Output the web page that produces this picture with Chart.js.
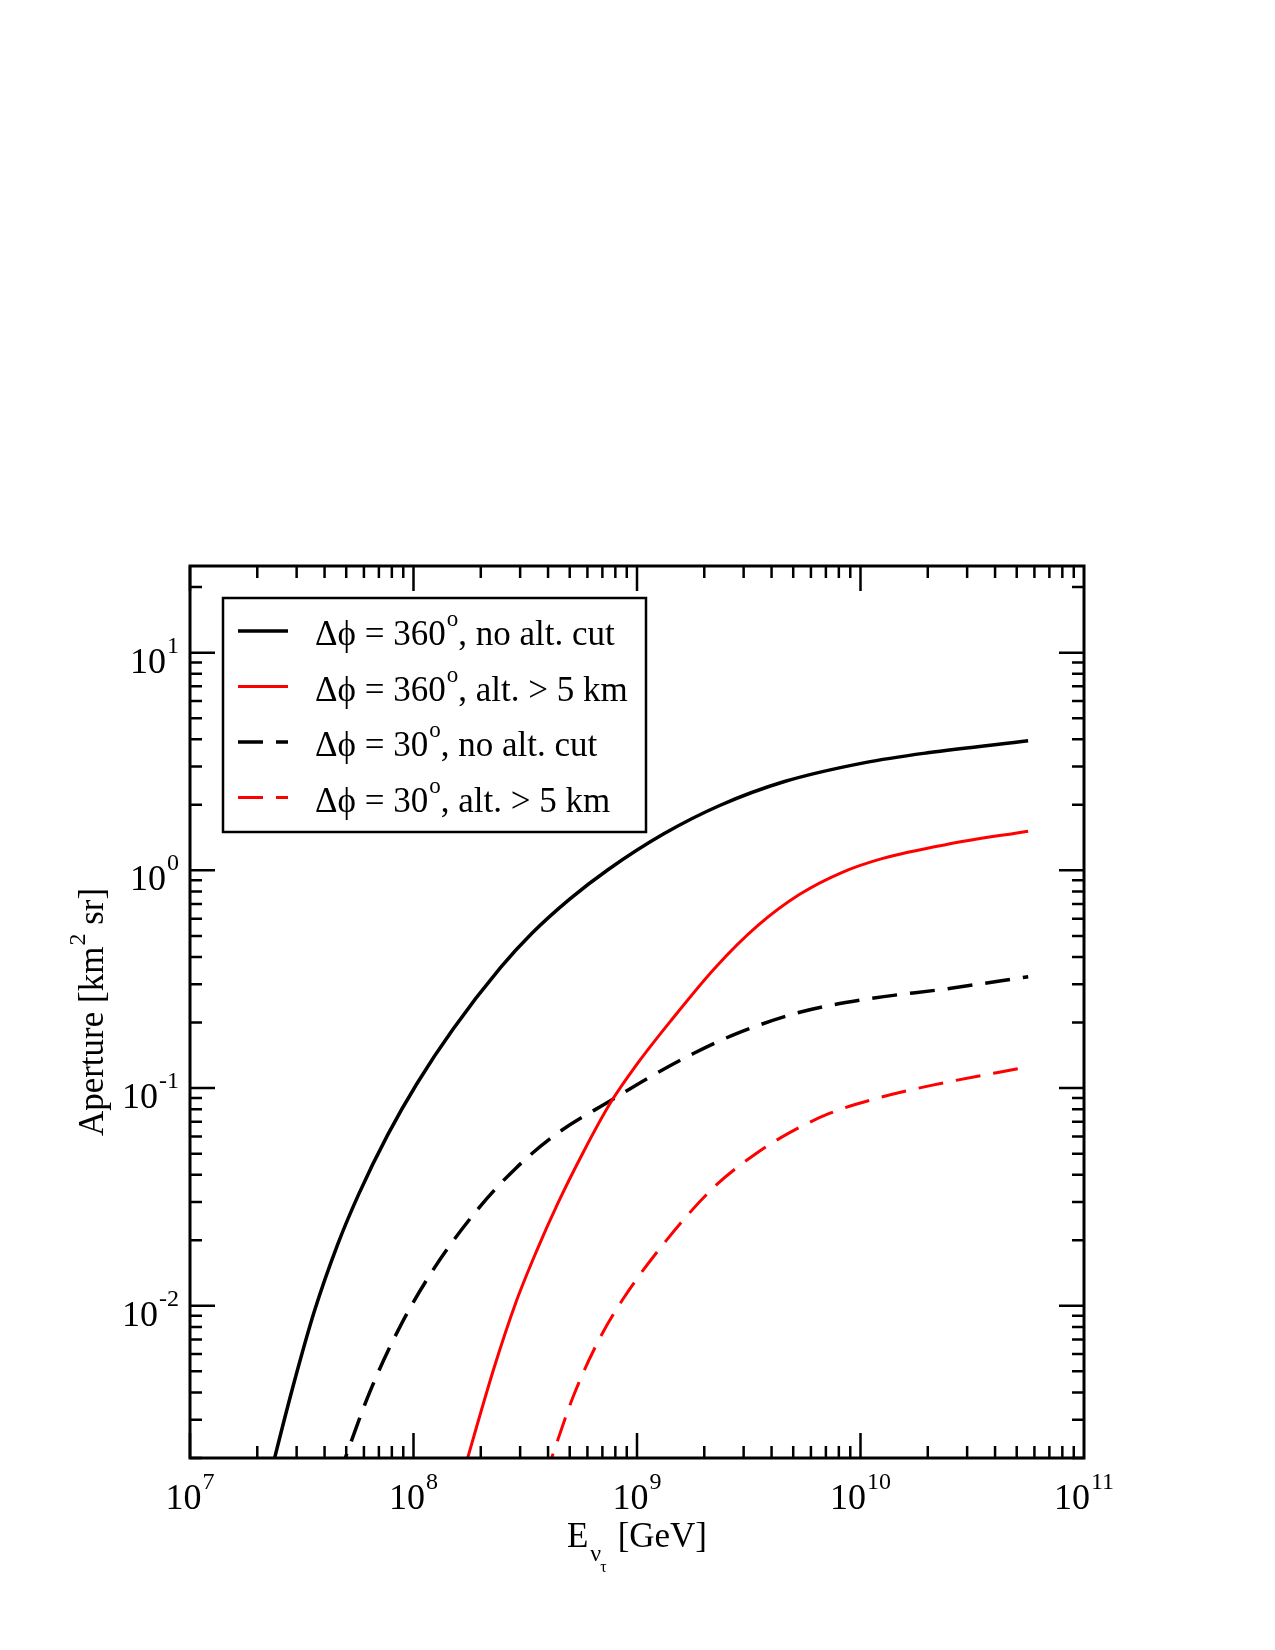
<!DOCTYPE html>
<html>
<head>
<meta charset="utf-8">
<script src="https://cdn.jsdelivr.net/npm/chart.js@4/dist/chart.umd.min.js"></script>
<style>
  html, body { margin: 0; padding: 0; background: #fff; }
  #wrap { width: 1275px; height: 1650px; }
</style>
</head>
<body>
<div id="wrap"><canvas id="chart" width="1275" height="1650"></canvas></div>
<script>
// energies in GeV, apertures in km^2 sr
const energyFullNoCut = [2.239e7, 2.382e7, 2.884e7, 3.589e7, 4.571e7, 5.689e7, 7.674e7, 1.035e8, 1.496e8, 2.455e8, 3.388e8, 5.012e8, 7.413e8, 1.318e9, 2.344e9, 4.571e9, 1.047e10, 1.995e10, 5.623e10];
const apertureFullNoCut = [0.001514, 0.001968, 0.004227, 0.009333, 0.01905, 0.03258, 0.0611, 0.1047, 0.1854, 0.3581, 0.514, 0.7396, 1.007, 1.472, 1.986, 2.559, 3.126, 3.467, 3.936];

const energyFullAlt = [1.660e8, 1.746e8, 2.301e8, 2.858e8, 3.548e8, 4.406e8, 5.781e8, 7.586e8, 1.0e9, 1.432e9, 2.239e9, 3.467e9, 5.346e9, 8.241e9, 1.259e10, 2.455e10, 5.623e10];
const apertureFullAlt = [0.00166, 0.001995, 0.005248, 0.01023, 0.01778, 0.02931, 0.05129, 0.08511, 0.1288, 0.2065, 0.3573, 0.5572, 0.7762, 0.9772, 1.135, 1.318, 1.514];

const energy30NoCut = [4.617e7, 4.927e7, 6.392e7, 8.851e7, 1.253e8, 1.954e8, 2.857e8, 4.314e8, 7.834e8, 1.170e9, 1.806e9, 2.788e9, 5.344e9, 1.025e10, 2.441e10, 5.628e10];
const aperture30NoCut = [0.001634, 0.001973, 0.004049, 0.008289, 0.01517, 0.02803, 0.04266, 0.06106, 0.0891, 0.114, 0.1449, 0.1778, 0.223, 0.2548, 0.286, 0.3249];

const energy30Alt = [3.871e8, 4.130e8, 5.188e8, 6.804e8, 8.687e8, 1.348e9, 2.220e9, 3.353e9, 4.775e9, 7.211e9, 1.153e10, 2.075e10, 5.567e10];
const aperture30Alt = [0.001634, 0.001973, 0.003843, 0.007079, 0.0108, 0.01988, 0.03524, 0.04944, 0.06209, 0.07625, 0.0891, 0.1029, 0.125];

const seriesNames = [
  ['360', ', no alt. cut'],
  ['360', ', alt. > 5 km'],
  ['30', ', no alt. cut'],
  ['30', ', alt. > 5 km']
];

const xTickExps = [7, 8, 9, 10, 11];
const yTickExps = [-2, -1, 0, 1];
const xRange = [1e7, 1e11];
const yRange = [0.002, 25];

const FONT = '"Liberation Serif", "Times New Roman", serif';

function pairs(xs, ys) {
  return xs.map((x, i) => ({ x: x, y: ys[i] }));
}

const styles = [
  { color: '#000000', width: 3.5, dash: [] },
  { color: '#ff0000', width: 3, dash: [] },
  { color: '#000000', width: 3.5, dash: [25, 13] },
  { color: '#ff0000', width: 3, dash: [25, 13] }
];

const allData = [
  pairs(energyFullNoCut, apertureFullNoCut),
  pairs(energyFullAlt, apertureFullAlt),
  pairs(energy30NoCut, aperture30NoCut),
  pairs(energy30Alt, aperture30Alt)
];

function supText(ctx, base, sup, x, y, size, supSize, rise) {
  ctx.font = size + 'px ' + FONT;
  ctx.fillText(base, x, y);
  const w = ctx.measureText(base).width;
  ctx.font = supSize + 'px ' + FONT;
  ctx.fillText(sup, x + w + 1, y - rise);
  return w + 1 + ctx.measureText(sup).width;
}

function supWidth(ctx, base, sup, size, supSize) {
  ctx.font = size + 'px ' + FONT;
  const w = ctx.measureText(base).width;
  ctx.font = supSize + 'px ' + FONT;
  return w + 1 + ctx.measureText(sup).width;
}

const framePlugin = {
  id: 'frame',
  afterDraw(chart) {
    const ctx = chart.ctx;
    const a = chart.chartArea;
    const xs = chart.scales.x;
    const ys = chart.scales.y;
    ctx.save();
    ctx.fillStyle = '#000';
    ctx.strokeStyle = '#000';
    ctx.textAlign = 'left';
    ctx.textBaseline = 'alphabetic';

    // ticks, inward on all four sides
    ctx.lineWidth = 2.5;
    ctx.beginPath();
    for (let e = 7; e <= 10; e++) {
      for (let m = 1; m <= 9; m++) {
        const v = m * Math.pow(10, e);
        const px = xs.getPixelForValue(v);
        const len = m === 1 ? 25 : 12;
        ctx.moveTo(px, a.bottom); ctx.lineTo(px, a.bottom - len);
        ctx.moveTo(px, a.top); ctx.lineTo(px, a.top + len);
      }
    }
    for (let e = -3; e <= 1; e++) {
      for (let m = 1; m <= 9; m++) {
        const v = m * Math.pow(10, e);
        if (v < yRange[0] || v > yRange[1]) continue;
        const py = ys.getPixelForValue(v);
        const len = m === 1 ? 25 : 12;
        ctx.moveTo(a.left, py); ctx.lineTo(a.left + len, py);
        ctx.moveTo(a.right, py); ctx.lineTo(a.right - len, py);
      }
    }
    ctx.stroke();

    // frame
    ctx.lineWidth = 3;
    ctx.strokeRect(a.left, a.top, a.right - a.left, a.bottom - a.top);

    // x tick labels
    xTickExps.forEach(e => {
      const px = xs.getPixelForValue(Math.pow(10, e));
      const w = supWidth(ctx, '10', String(e), 36, 24);
      supText(ctx, '10', String(e), px - w / 2, a.bottom + 51, 36, 24, 20);
    });
    // y tick labels
    yTickExps.forEach(e => {
      const py = ys.getPixelForValue(Math.pow(10, e));
      const w = supWidth(ctx, '10', String(e), 36, 24);
      supText(ctx, '10', String(e), 179 - w, py + 20, 36, 24, 20);
    });

    // x title
    ctx.font = '35px ' + FONT;
    const wE = ctx.measureText('E').width;
    const wG = ctx.measureText('[GeV]').width;
    ctx.font = '24px ' + FONT;
    const wNu = ctx.measureText('\u03bd').width;
    ctx.font = '16px ' + FONT;
    const wTau = ctx.measureText('\u03c4').width;
    const total = wE + 2 + wNu + wTau + 10 + wG;
    let x0 = (a.left + a.right) / 2 - total / 2;
    ctx.font = '35px ' + FONT;
    ctx.fillText('E', x0, 1547);
    ctx.font = '24px ' + FONT;
    ctx.fillText('\u03bd', x0 + wE + 2, 1561);
    ctx.font = '16px ' + FONT;
    ctx.fillText('\u03c4', x0 + wE + 2 + wNu - 1, 1572);
    ctx.font = '35px ' + FONT;
    ctx.fillText('[GeV]', x0 + wE + 2 + wNu + wTau + 10, 1547);

    // y title
    ctx.save();
    ctx.translate(103, (a.top + a.bottom) / 2);
    ctx.rotate(-Math.PI / 2);
    ctx.font = '35px ' + FONT;
    const t1 = 'Aperture [km', t2 = ' sr]';
    const w1 = ctx.measureText(t1).width;
    const w3 = ctx.measureText(t2).width;
    ctx.font = '24px ' + FONT;
    const w2 = ctx.measureText('2').width;
    const tw = w1 + 1 + w2 + w3;
    let tx = -tw / 2;
    ctx.font = '35px ' + FONT;
    ctx.fillText(t1, tx, 0);
    ctx.font = '24px ' + FONT;
    ctx.fillText('2', tx + w1 + 1, -18);
    ctx.font = '35px ' + FONT;
    ctx.fillText(t2, tx + w1 + 1 + w2, 0);
    ctx.restore();

    // legend
    ctx.lineWidth = 2.5;
    ctx.strokeStyle = '#000';
    ctx.strokeRect(223, 598, 423, 234);
    seriesNames.forEach((n, i) => {
      const ly = 631 + i * 55.5;
      const st = styles[i];
      ctx.strokeStyle = st.color;
      ctx.lineWidth = st.width;
      ctx.setLineDash(st.dash);
      ctx.beginPath();
      ctx.moveTo(238, ly);
      ctx.lineTo(288, ly);
      ctx.stroke();
      ctx.setLineDash([]);
      ctx.fillStyle = '#000';
      const w = supText(ctx, '\u0394\u03d5 = ' + n[0], 'o', 315, ly + 14, 35, 23, 19);
      ctx.font = '35px ' + FONT;
      ctx.fillText(n[1], 315 + w, ly + 14);
    });
    ctx.restore();
  }
};

new Chart(document.getElementById('chart'), {
  type: 'line',
  data: {
    datasets: allData.map((d, i) => ({
      label: seriesNames[i].join(''),
      data: d,
      borderColor: styles[i].color,
      borderWidth: styles[i].width,
      borderDash: styles[i].dash,
      pointRadius: 0,
      fill: false,
      cubicInterpolationMode: 'monotone',
      clip: 0
    }))
  },
  options: {
    responsive: false,
    animation: false,
    devicePixelRatio: 1,
    layout: { padding: { left: 190, right: 191, top: 566, bottom: 192 } },
    plugins: { legend: { display: false }, tooltip: { enabled: false } },
    scales: {
      x: { type: 'logarithmic', min: xRange[0], max: xRange[1], display: false },
      y: { type: 'logarithmic', min: yRange[0], max: yRange[1], display: false }
    }
  },
  plugins: [framePlugin]
});
</script>
</body>
</html>
